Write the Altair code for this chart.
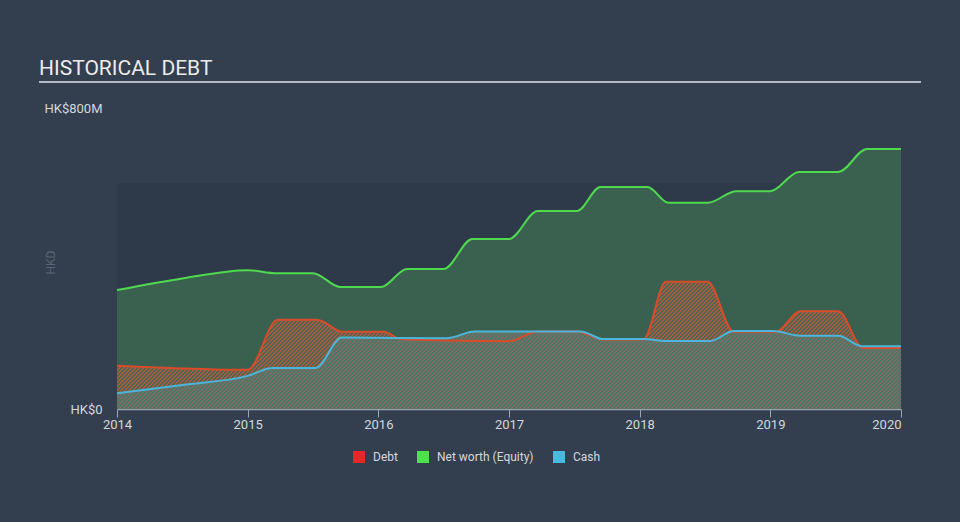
import math
import altair as alt
import pandas as pd

# ---- data ----
equity_years = [2014.0, 2014.5, 2015.0, 2015.22, 2015.50, 2015.71, 2016.02, 2016.22, 2016.50, 2016.72,
                2017.0, 2017.22, 2017.52, 2017.70, 2018.06, 2018.22, 2018.52, 2018.74, 2019.0, 2019.22,
                2019.52, 2019.74, 2020.0]
equity_values = [316, 347, 369, 361, 361, 324, 324, 372, 372, 452,
                 452, 526, 526, 590, 590, 548, 548, 579, 579, 630,
                 630, 691, 691]

debt_years = [2014.0, 2015.0, 2015.23, 2015.53, 2015.73, 2016.04, 2016.17, 2016.5, 2017.0, 2017.22,
              2017.52, 2017.72, 2018.03, 2018.2, 2018.52, 2018.72, 2019.04, 2019.23, 2019.52, 2019.71,
              2020.0]
debt_values = [115, 104, 237, 237, 205, 205, 186, 182, 180, 206,
               206, 185, 185, 338, 338, 205, 205, 260, 260, 162,
               162]

cash_years = [2014.0, 2014.5, 2015.0, 2015.19, 2015.52, 2015.72, 2016.52, 2016.74, 2017.55, 2017.72,
              2018.03, 2018.2, 2018.54, 2018.72, 2019.02, 2019.23, 2019.52, 2019.70, 2020.0]
cash_values = [42, 64, 88, 109, 109, 190, 188, 206, 206, 186,
               186, 181, 181, 207, 207, 195, 195, 167, 167]

x_ticks = [2014, 2015, 2016, 2017, 2018, 2019, 2020]
y_ticks = [0, 800]
y_tick_labels = ["HK$0", "HK$800M"]
band = {"x0": [2014.0], "x1": [2020.0], "y0": [0], "y1": [600]}

legend_labels = ["Debt", "Net worth (Equity)", "Cash"]
legend_colors = ["#e5262b", "#4fe04f", "#4bb9e0"]
title_text = "HISTORICAL DEBT"

# ---- frames ----
eq = pd.DataFrame({"year": equity_years, "value": equity_values})
de = pd.DataFrame({"year": debt_years, "value": debt_values})
ca = pd.DataFrame({"year": cash_years, "value": cash_values})
band_df = pd.DataFrame(band)
legend_df = pd.DataFrame({"series": legend_labels})
title_df = pd.DataFrame({"label": [title_text]})

FONT = "Roboto"
LABEL = "#d3d7dc"
PLOT_W, PLOT_H = 784, 301
Y_MAX = 800


def hatch(color_a, color_b, top_value, period=4.0):
    """Diagonal stripe fill built as a linear gradient over the area's bounding box,
    with each stripe period exactly `period` pixels along x+y."""
    h = PLOT_H * top_value / Y_MAX
    r = h / PLOT_W
    n = int(math.ceil((PLOT_W + h) / period))
    length = n * period
    a = length / (PLOT_W * (1 + r * r))
    b = a * r
    stops = []
    for i in range(n):
        o0 = i / n
        o1 = (i + 0.5) / n
        o2 = (i + 1) / n
        stops.append(alt.GradientStop(offset=o0, color=color_a))
        stops.append(alt.GradientStop(offset=o1, color=color_a))
        stops.append(alt.GradientStop(offset=o1, color=color_b))
        stops.append(alt.GradientStop(offset=o2, color=color_b))
    return alt.LinearGradient(gradient="linear", stops=stops, x1=0, y1=0, x2=a, y2=b)


x_scale = alt.Scale(domain=[2014, 2020], nice=False, zero=False)
y_scale = alt.Scale(domain=[0, Y_MAX], nice=False)

x_axis = alt.Axis(values=x_ticks, format="d", title=None, grid=False,
                  domainColor="#9ba4ae", domainWidth=1.5, tickColor="#9ba4ae", tickSize=8,
                  labelColor=LABEL, labelFontSize=13, labelFont=FONT, labelPadding=1,
                  labelAlign=alt.expr("datum.value == 2020 ? 'right' : 'center'"))
label_expr = "datum.value == 0 ? '%s' : '%s'" % (y_tick_labels[0], y_tick_labels[1])
y_axis = alt.Axis(values=y_ticks, labelExpr=label_expr, grid=False, domain=False, ticks=False,
                  labelColor=LABEL, labelFontSize=13, labelFont=FONT, labelPadding=15,
                  labelBaseline="middle",
                  title="HKD", titleColor="#5a6673", titleFontSize=12, titleFont=FONT,
                  titleFontWeight="normal", titleX=-60, titleY=154, titleAngle=270)


def X(field):
    return alt.X(field, type="quantitative", scale=x_scale, axis=x_axis)


def Y(field):
    return alt.Y(field, type="quantitative", scale=y_scale, axis=y_axis)


band_layer = alt.Chart(band_df).mark_rect(color="#2e3a4a").encode(
    x=X("x0"), x2="x1", y=Y("y0"), y2="y1")

eq_area = alt.Chart(eq).mark_area(interpolate="monotone", color="#3a604f", opacity=1).encode(
    x=X("year"), y=Y("value"))
de_area = alt.Chart(de).mark_area(interpolate="monotone", opacity=1,
                                  color=hatch("#a95b3d", "#4a6656", max(debt_values))).encode(
    x=X("year"), y=Y("value"))
ca_area = alt.Chart(ca).mark_area(interpolate="monotone", opacity=1,
                                  color=hatch("#4b776b", "#7a6d62", max(cash_values))).encode(
    x=X("year"), y=Y("value"))

eq_line = alt.Chart(eq).mark_line(interpolate="monotone", color="#4fd94f", strokeWidth=2).encode(
    x=X("year"), y=Y("value"))
de_line = alt.Chart(de).mark_line(interpolate="monotone", color="#d84c2a", strokeWidth=2).encode(
    x=X("year"), y=Y("value"))
ca_line = alt.Chart(ca).mark_line(interpolate="monotone", color="#4ab6dc", strokeWidth=2).encode(
    x=X("year"), y=Y("value"))

legend_layer = alt.Chart(legend_df).mark_square(opacity=0, size=1).encode(
    x=alt.value(0), y=alt.value(0),
    color=alt.Color("series:N",
                    scale=alt.Scale(domain=legend_labels, range=legend_colors),
                    legend=alt.Legend(title=None, orient="none", legendX=236, legendY=343,
                                      direction="horizontal", symbolType="square", symbolSize=144,
                                      symbolOpacity=1, symbolStrokeWidth=0,
                                      labelColor=LABEL, labelFontSize=12, labelFont=FONT,
                                      labelOffset=8, columnPadding=19, padding=0)))

title_layer = alt.Chart(title_df).mark_text(align="left", baseline="alphabetic", fontSize=21,
                                             font=FONT, color="#ececec").encode(
    text="label:N", x=alt.value(-78), y=alt.value(-33))
rule_layer = alt.Chart(title_df).mark_rule(color="#b4bbc3", strokeWidth=2).encode(
    x=alt.value(-78), x2=alt.value(804), y=alt.value(-26))

chart = alt.layer(band_layer, eq_area, de_area, ca_area, eq_line, de_line, ca_line,
                  legend_layer, title_layer, rule_layer).properties(
    width=PLOT_W, height=PLOT_H,
    padding={"left": 117, "top": 108, "right": 59, "bottom": 113},
    autosize=alt.AutoSizeParams(type="none"),
    background="#333f4f",
).configure_view(stroke=None)

chart.save("out.html", embed_options={"renderer": "svg", "actions": False})
